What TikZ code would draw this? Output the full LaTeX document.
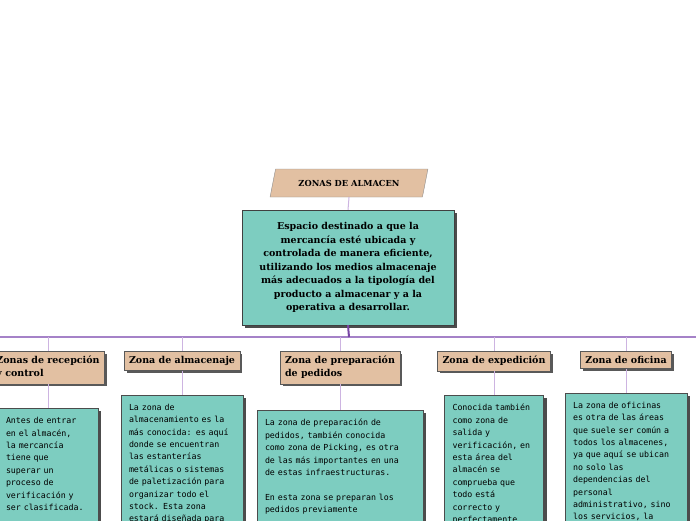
\documentclass[tikz,border=0pt]{standalone}
\usepackage{fontspec}
\setmainfont{DejaVu Serif}
\setmonofont{DejaVu Sans Mono}
\usetikzlibrary{positioning, shapes.geometric, shadows}
\definecolor{tanbox}{RGB}{226,192,162}
\definecolor{tealbox}{RGB}{125,205,192}
\definecolor{branchdark}{RGB}{120,70,165}
\definecolor{branchmid}{RGB}{165,130,200}
\definecolor{branchlight}{RGB}{205,180,225}

\begin{document}
\begin{tikzpicture}[
  x=1pt, y=-1pt,
  title/.style = {
    trapezium, trapezium left angle=59, trapezium right angle=121,
    trapezium stretches=true, minimum width=158pt, minimum height=28pt,
    draw=black!45, fill=tanbox, inner sep=0pt,
    font=\bfseries\fontsize{8.3}{9}\selectfont
  },
  mainbox/.style = {
    rectangle, draw=black!75, fill=tealbox, align=center,
    minimum width=212pt, minimum height=115pt,
    font=\bfseries\fontsize{9.5}{13.5}\selectfont,
    drop shadow={shadow xshift=3pt, shadow yshift=-3pt, fill=black!70, opacity=1}
  },
  topic/.style = {
    rectangle, draw=black!65, fill=tanbox, align=left, anchor=north,
    inner xsep=5pt, inner ysep=5pt,
    font=\bfseries\fontsize{9.5}{13}\selectfont,
    drop shadow={shadow xshift=2.5pt, shadow yshift=-2.5pt, fill=black!65, opacity=1}
  },
  note/.style = {
    rectangle, draw=black!70, fill=tealbox, align=left,
    inner xsep=8pt, inner ysep=9pt, text depth=140pt,
    font=\ttfamily\fontsize{8.3}{12.4}\selectfont,
    drop shadow={shadow xshift=3pt, shadow yshift=-3pt, fill=black!70, opacity=1}
  },
  link/.style = {branchlight, line width=1pt},
  trunk/.style = {branchdark, line width=2pt}
]
\useasboundingbox (0,0) rectangle (696,520);
\clip (0,0) rectangle (696,520);

\node[title] (zonas) at (349,183) {ZONAS DE ALMACEN};
\node[mainbox] (espacio) at (348,267.5) {Espacio destinado a que la\\
  mercancía esté ubicada y\\ controlada de manera eficiente,\\
  utilizando los medios almacenaje\\ más adecuados a la tipología del\\
  producto a almacenar y a la\\ operativa a desarrollar.};

% zonas
\node[topic] (recep) at (48,351)  {Zonas de recepción\\y control};
\node[topic] (almac) at (182,351) {Zona de almacenaje};
\node[topic] (prep)  at (340,351) {Zona de preparación\\de pedidos};
\node[topic] (exped) at (494,351) {Zona de expedición};
\node[topic] (ofic)  at (626,351) {Zona de oficina};

\node[note, text width=84pt,  below=24pt of recep] (recepnote) {Antes de entrar\\
  en el almacén,\\ la mercancía\\ tiene que\\ superar un\\ proceso de\\
  verificación y\\ ser clasificada.};
\node[note, text width=106pt, below=24pt of almac] (almacnote) {La zona de\\
  almacenamiento es la\\ más conocida: es aquí\\ donde se encuentran\\
  las estanterías\\ metálicas o sistemas\\ de paletización para\\
  organizar todo el\\ stock. Esta zona\\ estará diseñada para};
\node[note, text width=150pt, below=26pt of prep] (prepnote) {La zona de preparación de\\
  pedidos, también conocida\\ como zona de Picking, es otra\\
  de las más importantes en una\\ de estas infraestructuras.\\[12.4pt]
  En esta zona se preparan los\\ pedidos previamente};
\node[note, text width=83pt,  below=24pt of exped] (expednote) {Conocida también\\
  como zona de\\ salida y\\ verificación, en\\ esta área del\\ almacén se\\
  comprueba que\\ todo está\\ correcto y\\ perfectamente};
\node[note, text width=106pt, below=24pt of ofic] (oficnote) {La zona de oficinas\\
  es otra de las áreas\\ que suele ser común a\\ todos los almacenes,\\
  ya que aquí se ubican\\ no solo las\\ dependencias del\\ personal\\
  administrativo, sino\\ los servicios, la};

% ramas
\coordinate (hub) at (349,337);
\coordinate (leftend) at (0,337);
\coordinate (rightend) at (696,337);
\draw[link] (zonas.south) -- (espacio.north);
\draw[branchmid, line width=1.5pt] (leftend) -- (rightend);
\draw[trunk] (espacio.south) -- (hub);
\draw[link] (leftend -| recep.north) -- (recep.north);
\draw[link] (leftend -| almac.north) -- (almac.north);
\draw[link] (leftend -| prep.north)  -- (prep.north);
\draw[link] (leftend -| exped.north) -- (exped.north);
\draw[link] (leftend -| ofic.north)  -- (ofic.north);
\draw[link] (recep.south) -- (recepnote.north);
\draw[link] (almac.south) -- (almacnote.north);
\draw[link] (prep.south)  -- (prepnote.north);
\draw[link] (exped.south) -- (expednote.north);
\draw[link] (ofic.south)  -- (oficnote.north);
\end{tikzpicture}
\end{document}
